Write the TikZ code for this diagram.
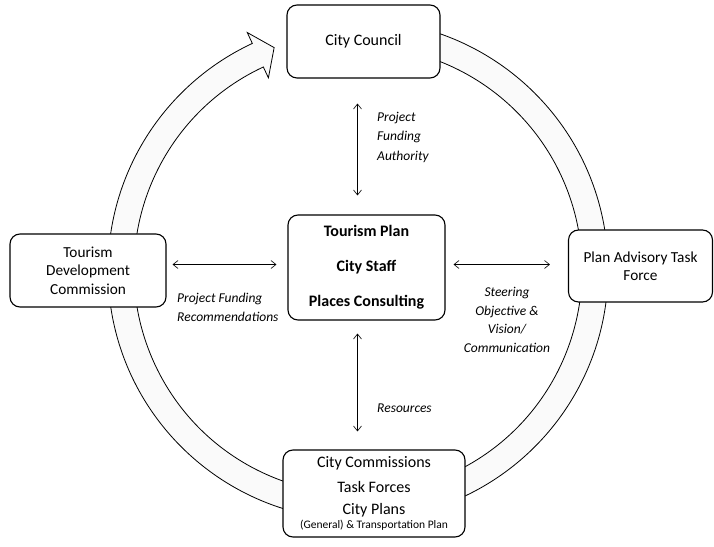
\documentclass[tikz,border=0pt]{standalone}
\usepackage{fontspec}
\setmainfont{Carlito}
\usetikzlibrary{arrows.meta,calc}
\begin{document}
\begin{tikzpicture}[x=1pt,y=1pt,
  box/.style={draw, line width=1.1pt, rounded corners=10pt, fill=white, align=center, inner sep=0pt},
  lbl/.style={font=\itshape\fontsize{13.5}{19.5}\selectfont, inner sep=0pt},
  dbl/.style={{Straight Barb[length=5pt,width=8pt]}-{Straight Barb[length=5pt,width=8pt]}, line width=0.6pt},
  ring/.style={draw, line width=0.8pt, fill=gray!4}]
\useasboundingbox (0,0) rectangle (714,546);
\coordinate (C) at (358,276);
% circular arrow band
\draw[ring] ($(C)+(95:250)$) arc[start angle=95, end angle=-245, radius=250]
  -- ($(C)+(115:262)$) -- ($(C)+(115:237)+(25:18)$) -- ($(C)+(115:212)$) -- ($(C)+(115:224)$)
  arc[start angle=-245, end angle=95, radius=224] -- cycle;
% boxes
\node[box, minimum width=153pt, minimum height=73pt, font=\fontsize{16}{19}\selectfont] (council) at (363.5,504.5) {City Council};
\node[box, minimum width=157pt, minimum height=105pt, font=\bfseries\fontsize{16}{19}\selectfont] (ctr) at (366.5,278.5) {Tourism Plan\\[16pt]City Staff\\[16pt]Places Consulting};
\node[box, minimum width=156pt, minimum height=73pt, font=\fontsize{15.3}{18.5}\selectfont] (tdc) at (88,275.5) {Tourism\\Development\\Commission};
\node[box, minimum width=144pt, minimum height=72pt, font=\fontsize{15.3}{17.5}\selectfont] (pat) at (640.5,280) {Plan Advisory Task\\Force};
\node[box, minimum width=182pt, minimum height=87pt, font=\fontsize{16}{19}\selectfont] (com) at (374,52.5) {\lineskiplimit=-20pt\relax City Commissions\\[6pt]Task Forces\\[3pt]City Plans\\[-5pt]{\fontsize{11.5}{12}\selectfont (General) \& Transportation Plan}};
% connectors
\coordinate (vx) at (357.5,0);
\coordinate (hy) at (0,281.5);
\draw[dbl, shorten <=25pt, shorten >=19pt] (council.south -| vx) -- (ctr.north -| vx);
\draw[dbl, shorten <=13pt, shorten >=18pt] (ctr.south -| vx) -- (com.north -| vx);
\draw[dbl, shorten <=6pt, shorten >=11pt] (tdc.east |- hy) -- (ctr.west |- hy);
\draw[dbl, shorten <=8pt, shorten >=18pt] (ctr.east |- hy) -- (pat.west |- hy);
% labels
\node[lbl, anchor=west, align=left] (l1) at (377,409) {Project\\Funding\\Authority};
\node[lbl, anchor=west] (l2) at (377,138) {Resources};
\node[lbl, anchor=west, align=left] (l3) at (177,238.5) {Project Funding\\Recommendations};
\node[lbl, align=center, font=\itshape\fontsize{13.5}{18.7}\selectfont] (l4) at (507,226) {Steering\\Objective \&\\Vision/\\Communication};
\end{tikzpicture}
\end{document}
